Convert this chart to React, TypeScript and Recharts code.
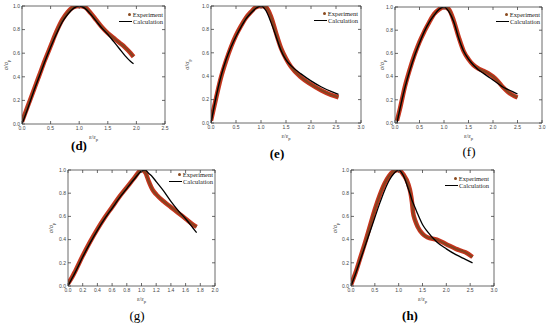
import React from 'react';
import { ComposedChart, Line, XAxis, YAxis, Legend } from 'recharts';

// strain ratio (ε/εp) grids and stress ratios (σ/σp)
const strainD = [0, 0.1, 0.2, 0.3, 0.4, 0.5, 0.6, 0.7, 0.8, 0.9, 1.0, 1.1, 1.2, 1.3, 1.4, 1.5, 1.6, 1.7, 1.8, 1.9, 1.95];
const calcD = [0, 0.13, 0.27, 0.4, 0.53, 0.65, 0.76, 0.86, 0.93, 0.98, 1.0, 0.98, 0.93, 0.87, 0.81, 0.76, 0.7, 0.64, 0.58, 0.53, 0.51];
const expD = [0.02, 0.15, 0.28, 0.41, 0.54, 0.66, 0.78, 0.88, 0.95, 0.99, 1.0, 0.99, 0.94, 0.88, 0.82, 0.77, 0.73, 0.69, 0.65, 0.6, 0.57];

const strainE = [0, 0.1, 0.2, 0.3, 0.4, 0.5, 0.6, 0.7, 0.8, 0.9, 1.0, 1.1, 1.2, 1.3, 1.4, 1.5, 1.6, 1.8, 2.0, 2.2, 2.4, 2.55];
const calcE = [0, 0.22, 0.4, 0.54, 0.65, 0.74, 0.82, 0.89, 0.94, 0.98, 1.0, 0.96, 0.86, 0.74, 0.62, 0.54, 0.49, 0.42, 0.36, 0.31, 0.27, 0.245];
const expE = [0.02, 0.21, 0.39, 0.53, 0.65, 0.75, 0.83, 0.9, 0.95, 0.99, 1.0, 0.99, 0.91, 0.77, 0.64, 0.55, 0.48, 0.39, 0.33, 0.28, 0.24, 0.22];

const strainF = [0.04, 0.1, 0.2, 0.3, 0.4, 0.5, 0.6, 0.7, 0.8, 0.9, 1.0, 1.1, 1.2, 1.3, 1.4, 1.5, 1.6, 1.7, 1.8, 1.9, 2.0, 2.1, 2.2, 2.3, 2.4, 2.5];
const calcF = [0, 0.12, 0.3, 0.45, 0.58, 0.69, 0.79, 0.87, 0.93, 0.98, 1.0, 0.96, 0.87, 0.73, 0.62, 0.55, 0.5, 0.46, 0.43, 0.4, 0.37, 0.34, 0.31, 0.29, 0.27, 0.25];
const expF = [0.02, 0.12, 0.31, 0.46, 0.59, 0.7, 0.79, 0.87, 0.94, 0.98, 1.0, 0.98, 0.88, 0.74, 0.62, 0.55, 0.5, 0.47, 0.45, 0.43, 0.4, 0.36, 0.31, 0.27, 0.24, 0.22];

const strainG = [0, 0.05, 0.1, 0.2, 0.3, 0.4, 0.5, 0.6, 0.7, 0.8, 0.9, 1.0, 1.05, 1.1, 1.15, 1.2, 1.3, 1.4, 1.5, 1.6, 1.7, 1.75];
const calcG = [0, 0.06, 0.12, 0.25, 0.37, 0.48, 0.58, 0.67, 0.76, 0.84, 0.92, 0.99, 1.0, 0.97, 0.94, 0.9, 0.82, 0.73, 0.65, 0.58, 0.5, 0.46];
const expG = [0.02, 0.07, 0.13, 0.26, 0.38, 0.49, 0.59, 0.68, 0.77, 0.85, 0.93, 1.0, 0.98, 0.9, 0.83, 0.79, 0.73, 0.68, 0.63, 0.58, 0.53, 0.51];

const strainH = [0, 0.1, 0.2, 0.3, 0.4, 0.5, 0.6, 0.7, 0.8, 0.9, 1.0, 1.1, 1.2, 1.25, 1.28, 1.3, 1.35, 1.4, 1.5, 1.6, 1.8, 2.0, 2.2, 2.4, 2.55];
const calcH = [0, 0.11, 0.23, 0.35, 0.47, 0.59, 0.71, 0.82, 0.91, 0.97, 1.0, 0.95, 0.84, 0.78, 0.74, 0.72, 0.67, 0.62, 0.53, 0.47, 0.38, 0.32, 0.27, 0.23, 0.2];
const expH = [0.01, 0.12, 0.25, 0.38, 0.52, 0.66, 0.78, 0.88, 0.95, 0.99, 1.0, 0.96, 0.88, 0.8, 0.72, 0.64, 0.56, 0.51, 0.45, 0.42, 0.4, 0.36, 0.32, 0.29, 0.25];

const yTicks = [0, 0.2, 0.4, 0.6, 0.8, 1.0];
const xTicksHalf = [0, 0.5, 1.0, 1.5, 2.0, 2.5, 3.0];
const xTicksD = [0, 0.5, 1.0, 1.5, 2.0, 2.5];
const xTicksG = [0, 0.2, 0.4, 0.6, 0.8, 1.0, 1.2, 1.4, 1.6, 1.8, 2.0];

const zip = (xs: number[], ys: number[]) => xs.map((x, i) => ({ x, y: ys[i] }));

const SERIF = '"Liberation Serif", "DejaVu Serif", serif';
const SANS = '"Liberation Sans", Arial, sans-serif';
const AXIS = '#444';

// chart margins around the plot box (top/right include the 1px mirrored axes)
const ML = 36;
const MT = 4;
const MR = 4;
const MB = 24;

const BottomTick = (p: any) => (
  <g>
    <line x1={p.x} y1={p.y} x2={p.x} y2={p.y - 3} stroke={AXIS} strokeWidth={0.8} />
    <text x={p.x} y={p.y + 6} textAnchor="middle" fontSize={5} fontFamily={SANS} fill="#444">
      {Number(p.payload.value).toFixed(1)}
    </text>
  </g>
);
const TopTick = (p: any) => <line x1={p.x} y1={p.y} x2={p.x} y2={p.y + 3} stroke={AXIS} strokeWidth={0.8} />;
const LeftTick = (p: any) => (
  <g>
    <line x1={p.x} y1={p.y} x2={p.x + 3} y2={p.y} stroke={AXIS} strokeWidth={0.8} />
    <text x={p.x - 2} y={p.y + 1.8} textAnchor="end" fontSize={5} fontFamily={SANS} fill="#444">
      {Number(p.payload.value).toFixed(1)}
    </text>
  </g>
);
const RightTick = (p: any) => <line x1={p.x} y1={p.y} x2={p.x - 3} y2={p.y} stroke={AXIS} strokeWidth={0.8} />;

const LegendBox = () => (
  <div style={{ fontFamily: SERIF, fontSize: 6.5, lineHeight: '7px', color: '#222', whiteSpace: 'nowrap' }}>
    <div style={{ display: 'flex', justifyContent: 'flex-end', alignItems: 'center' }}>
      <span style={{ width: 3, height: 3, borderRadius: '50%', background: '#8a4a1e', marginRight: 2 }} />
      Experiment
    </div>
    <div style={{ display: 'flex', justifyContent: 'flex-end', alignItems: 'center' }}>
      <span style={{ width: 13, height: 1.4, background: '#000', marginRight: 1 }} />
      Calculation
    </div>
  </div>
);

type PanelProps = {
  strain: number[];
  calc: number[];
  exp: number[];
  xMax: number;
  xTicks: number[];
  box: [number, number, number, number];
  yTitleGap: number;
  legendTop: number;
  legendRight: number;
  tag: string;
  tagBold: boolean;
  tagPos: [number, number];
};

const Panel = ({ strain, calc, exp, xMax, xTicks, box, yTitleGap, legendTop, legendRight, tag, tagBold, tagPos }: PanelProps) => {
  const [left, top, w, h] = box;
  const calcData = zip(strain, calc);
  const expData = zip(strain, exp);
  return (
    <>
      <div style={{ position: 'absolute', left: left - ML, top: top - MT }}>
        <ComposedChart width={ML + w + MR} height={MT + h + MB} margin={{ top: MT - 1, right: MR - 1, bottom: 0, left: 0 }}>
          <XAxis
            xAxisId="b"
            type="number"
            dataKey="x"
            domain={[0, xMax]}
            ticks={xTicks}
            interval={0}
            allowDataOverflow
            height={MB}
            tickSize={0}
            tickMargin={0}
            tickLine={false}
            axisLine={{ stroke: AXIS, strokeWidth: 0.8 }}
            tick={BottomTick}
            label={{
              content: (lp: any) => {
                const vb = lp.viewBox;
                return (
                  <text x={vb.x + vb.width / 2} y={vb.y + 15} textAnchor="middle" fontSize={6} fontFamily={SERIF} fill="#333">
                    ε/ε<tspan fontSize={4.5} dy={1.5}>p</tspan>
                  </text>
                );
              },
            }}
          />
          <XAxis
            xAxisId="t"
            orientation="top"
            type="number"
            dataKey="x"
            domain={[0, xMax]}
            ticks={xTicks}
            interval={0}
            allowDataOverflow
            height={1}
            tickSize={0}
            tickMargin={0}
            tickLine={false}
            axisLine={{ stroke: AXIS, strokeWidth: 0.8 }}
            tick={TopTick}
          />
          <YAxis
            yAxisId="l"
            type="number"
            domain={[0, 1]}
            ticks={yTicks}
            interval={0}
            allowDataOverflow
            width={ML}
            tickSize={0}
            tickMargin={0}
            tickLine={false}
            axisLine={{ stroke: AXIS, strokeWidth: 0.8 }}
            tick={LeftTick}
            label={{
              content: (lp: any) => {
                const vb = lp.viewBox;
                const cx = vb.x + vb.width - yTitleGap;
                const cy = vb.y + vb.height / 2;
                return (
                  <text x={cx} y={cy} transform={`rotate(-90 ${cx} ${cy})`} textAnchor="middle" fontSize={6} fontFamily={SERIF} fill="#333">
                    σ/σ<tspan fontSize={4.5} dy={1.5}>p</tspan>
                  </text>
                );
              },
            }}
          />
          <YAxis
            yAxisId="r"
            orientation="right"
            type="number"
            domain={[0, 1]}
            ticks={yTicks}
            interval={0}
            allowDataOverflow
            width={1}
            tickSize={0}
            tickMargin={0}
            tickLine={false}
            axisLine={{ stroke: AXIS, strokeWidth: 0.8 }}
            tick={RightTick}
          />
          <Legend
            layout="horizontal"
            align="center"
            verticalAlign="middle"
            content={LegendBox}
            wrapperStyle={{ top: MT + legendTop, left: 'auto', right: MR + legendRight, width: 'auto', height: 'auto' }}
          />
          <Line xAxisId="b" yAxisId="l" data={expData} dataKey="y" type="monotone" stroke="#c9331d" strokeWidth={4.5} dot={false} isAnimationActive={false} legendType="none" />
          <Line xAxisId="b" yAxisId="l" data={expData} dataKey="y" type="monotone" stroke="#6e4a22" strokeOpacity={0.75} strokeWidth={2} dot={false} isAnimationActive={false} legendType="none" />
          {/* same domains as b/l: binding the calculation to the mirrored axes makes them draw the box */}
          <Line xAxisId="t" yAxisId="r" data={calcData} dataKey="y" type="monotone" stroke="#000" strokeWidth={1.3} dot={false} isAnimationActive={false} legendType="none" />
        </ComposedChart>
      </div>
      <div
        style={{
          position: 'absolute',
          left: tagPos[0],
          top: tagPos[1],
          transform: 'translate(-50%, -50%)',
          fontFamily: SERIF,
          fontSize: 13,
          fontWeight: tagBold ? 700 : 400,
          color: '#000',
          whiteSpace: 'nowrap',
        }}
      >
        {tag}
      </div>
    </>
  );
};

export default function App() {
  return (
    <div style={{ position: 'absolute', left: 0, top: 0, width: 550, height: 328, background: '#fff', overflow: 'hidden' }}>
      <Panel strain={strainD} calc={calcD} exp={expD} xMax={2.5} xTicks={xTicksD} box={[22, 6, 143, 118]} yTitleGap={14} legendTop={5} legendRight={2} tag="(d)" tagBold tagPos={[79, 146]} />
      <Panel strain={strainE} calc={calcE} exp={expE} xMax={3.0} xTicks={xTicksHalf} box={[211, 6, 150, 117]} yTitleGap={22} legendTop={4} legendRight={3} tag="(e)" tagBold tagPos={[277, 154]} />
      <Panel strain={strainF} calc={calcF} exp={expF} xMax={3.0} xTicks={xTicksHalf} box={[395, 7, 147, 116]} yTitleGap={11} legendTop={4} legendRight={2} tag="(f)" tagBold={false} tagPos={[469, 152]} />
      <Panel strain={strainG} calc={calcG} exp={expG} xMax={2.0} xTicks={xTicksG} box={[68, 170, 147, 116]} yTitleGap={15} legendTop={1} legendRight={2} tag="(g)" tagBold={false} tagPos={[137, 316]} />
      <Panel strain={strainH} calc={calcH} exp={expH} xMax={3.0} xTicks={xTicksHalf} box={[351, 170, 143, 116]} yTitleGap={14} legendTop={5} legendRight={5} tag="(h)" tagBold tagPos={[410, 316]} />
    </div>
  );
}
